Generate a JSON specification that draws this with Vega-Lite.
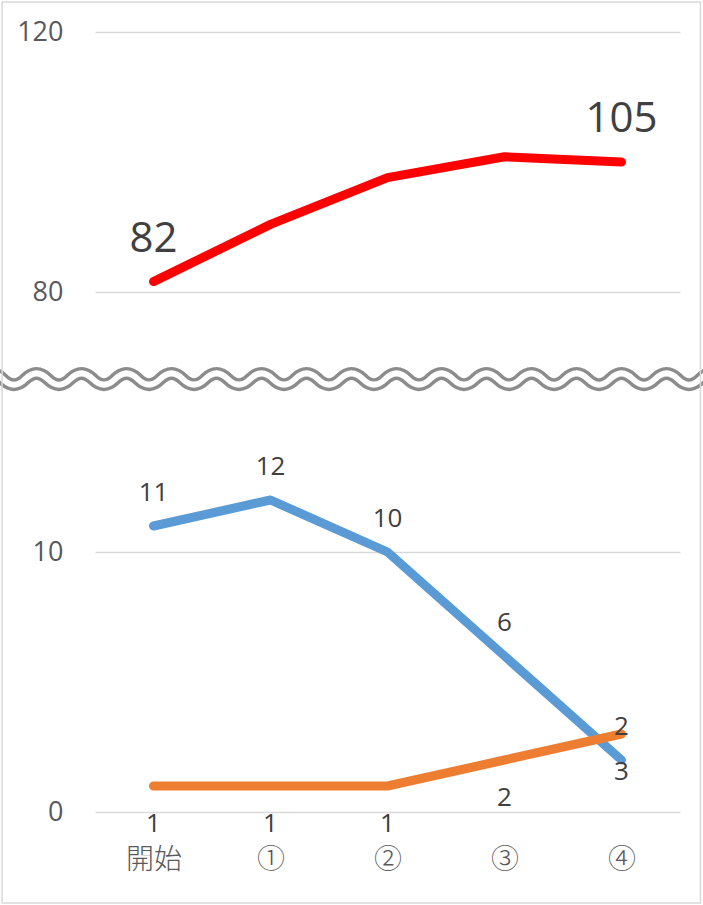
{
  "$schema": "https://vega.github.io/schema/vega-lite/v6.json",
  "width": 585,
  "height": 780,
  "autosize": {"type": "none"},
  "padding": {"left": 95, "top": 32, "right": 23, "bottom": 93},
  "background": "white",
  "config": {
    "view": {"stroke": null},
    "axis": {
      "labelFont": "Open Sans",
      "labelColor": "#595959",
      "labelFontSize": 27,
      "domain": false,
      "ticks": false,
      "tickSize": 0,
      "title": null
    },
    "text": {"font": "Open Sans", "color": "#404040", "baseline": "middle", "align": "center"}
  },
  "data": {
    "values": [
      {"step": "開始", "series": "A", "value": 82},
      {"step": "①", "series": "A", "value": 93},
      {"step": "②", "series": "A", "value": 102},
      {"step": "③", "series": "A", "value": 106},
      {"step": "④", "series": "A", "value": 105},
      {"step": "開始", "series": "B", "value": 11},
      {"step": "①", "series": "B", "value": 12},
      {"step": "②", "series": "B", "value": 10},
      {"step": "③", "series": "B", "value": 6},
      {"step": "④", "series": "B", "value": 2},
      {"step": "開始", "series": "C", "value": 1},
      {"step": "①", "series": "C", "value": 1},
      {"step": "②", "series": "C", "value": 1},
      {"step": "③", "series": "C", "value": 2},
      {"step": "④", "series": "C", "value": 3}
    ]
  },
  "encoding": {
    "x": {
      "field": "step",
      "type": "nominal",
      "sort": ["開始", "①", "②", "③", "④"],
      "scale": {"type": "point", "domain": ["開始", "①", "②", "③", "④"], "padding": 0.5},
      "axis": {
        "labelAngle": 0,
        "labelFont": "Noto Sans CJK JP",
        "labelFontSize": 28,
        "labelFontWeight": 300,
        "labelPadding": 34,
        "labelBaseline": "top",
        "grid": false
      }
    },
    "y": {
      "field": "value",
      "type": "quantitative",
      "scale": {"domain": [0, 15, 80, 130], "range": [780, 390, 260, 0], "nice": false, "zero": false},
      "axis": {
        "values": [0, 10, 80, 130],
        "labelExpr": "datum.value == 130 ? '120' : datum.label",
        "labelPadding": 32,
        "grid": true,
        "gridColor": "#d9d9d9",
        "gridWidth": 1.5
      }
    }
  },
  "layer": [
    {
      "mark": {"type": "line", "strokeWidth": 9, "strokeCap": "round", "strokeJoin": "round"},
      "encoding": {
        "color": {
          "field": "series",
          "type": "nominal",
          "scale": {"domain": ["A", "B", "C"], "range": ["#ff0000", "#5b9bd5", "#ed7d31"]},
          "legend": null
        }
      }
    },
    {
      "transform": [{"filter": "datum.series == 'A' && (datum.step == '開始' || datum.step == '④')"}],
      "mark": {"type": "text", "fontSize": 42, "dy": -43},
      "encoding": {"text": {"field": "value", "type": "quantitative"}}
    },
    {
      "transform": [{"filter": "datum.series == 'B'"}],
      "mark": {"type": "text", "fontSize": 26, "dy": -33},
      "encoding": {"text": {"field": "value", "type": "quantitative"}}
    },
    {
      "transform": [{"filter": "datum.series == 'C'"}],
      "mark": {"type": "text", "fontSize": 26, "dy": 38},
      "encoding": {"text": {"field": "value", "type": "quantitative"}}
    },
    {
      "transform": [{"filter": "datum.series == 'A' && datum.step == '④'"}],
      "mark": {
        "type": "point",
        "filled": false,
        "size": 2025,
        "stroke": "#8c8c8c",
        "strokeWidth": 13,
        "opacity": 1,
        "shape": "M-28.5,0 Q-28,-0.5 -27.5,0 Q-27,0.5 -26.5,0 Q-26,-0.5 -25.5,0 Q-25,0.5 -24.5,0 Q-24,-0.5 -23.5,0 Q-23,0.5 -22.5,0 Q-22,-0.5 -21.5,0 Q-21,0.5 -20.5,0 Q-20,-0.5 -19.5,0 Q-19,0.5 -18.5,0 Q-18,-0.5 -17.5,0 Q-17,0.5 -16.5,0 Q-16,-0.5 -15.5,0 Q-15,0.5 -14.5,0 Q-14,-0.5 -13.5,0 Q-13,0.5 -12.5,0 Q-12,-0.5 -11.5,0 Q-11,0.5 -10.5,0 Q-10,-0.5 -9.5,0 Q-9,0.5 -8.5,0 Q-8,-0.5 -7.5,0 Q-7,0.5 -6.5,0 Q-6,-0.5 -5.5,0 Q-5,0.5 -4.5,0 Q-4,-0.5 -3.5,0 Q-3,0.5 -2.5,0 Q-2,-0.5 -1.5,0 Q-1,0.5 -0.5,0 Q0,-0.5 0.5,0 Q1,0.5 1.5,0 Q2,-0.5 2.5,0 Q3,0.5 3.5,0 Q4,-0.5 4.5,0"
      },
      "encoding": {"y": {"datum": 36.5}}
    },
    {
      "transform": [{"filter": "datum.series == 'A' && datum.step == '④'"}],
      "mark": {
        "type": "point",
        "filled": false,
        "size": 2025,
        "stroke": "white",
        "strokeWidth": 6,
        "opacity": 1,
        "shape": "M-28.5,0 Q-28,-0.5 -27.5,0 Q-27,0.5 -26.5,0 Q-26,-0.5 -25.5,0 Q-25,0.5 -24.5,0 Q-24,-0.5 -23.5,0 Q-23,0.5 -22.5,0 Q-22,-0.5 -21.5,0 Q-21,0.5 -20.5,0 Q-20,-0.5 -19.5,0 Q-19,0.5 -18.5,0 Q-18,-0.5 -17.5,0 Q-17,0.5 -16.5,0 Q-16,-0.5 -15.5,0 Q-15,0.5 -14.5,0 Q-14,-0.5 -13.5,0 Q-13,0.5 -12.5,0 Q-12,-0.5 -11.5,0 Q-11,0.5 -10.5,0 Q-10,-0.5 -9.5,0 Q-9,0.5 -8.5,0 Q-8,-0.5 -7.5,0 Q-7,0.5 -6.5,0 Q-6,-0.5 -5.5,0 Q-5,0.5 -4.5,0 Q-4,-0.5 -3.5,0 Q-3,0.5 -2.5,0 Q-2,-0.5 -1.5,0 Q-1,0.5 -0.5,0 Q0,-0.5 0.5,0 Q1,0.5 1.5,0 Q2,-0.5 2.5,0 Q3,0.5 3.5,0 Q4,-0.5 4.5,0"
      },
      "encoding": {"y": {"datum": 36.5}}
    },
    {
      "transform": [{"filter": "datum.series == 'A' && datum.step == '④'"}],
      "mark": {
        "type": "point",
        "filled": false,
        "size": 2025,
        "stroke": "#d9d9d9",
        "strokeWidth": 1.5,
        "opacity": 1,
        "shape": "M-27.53,-16.76 L3.51,-16.76 L3.51,23.29 L-27.53,23.29 Z"
      },
      "encoding": {"y": {"datum": 36.5}}
    }
  ]
}
